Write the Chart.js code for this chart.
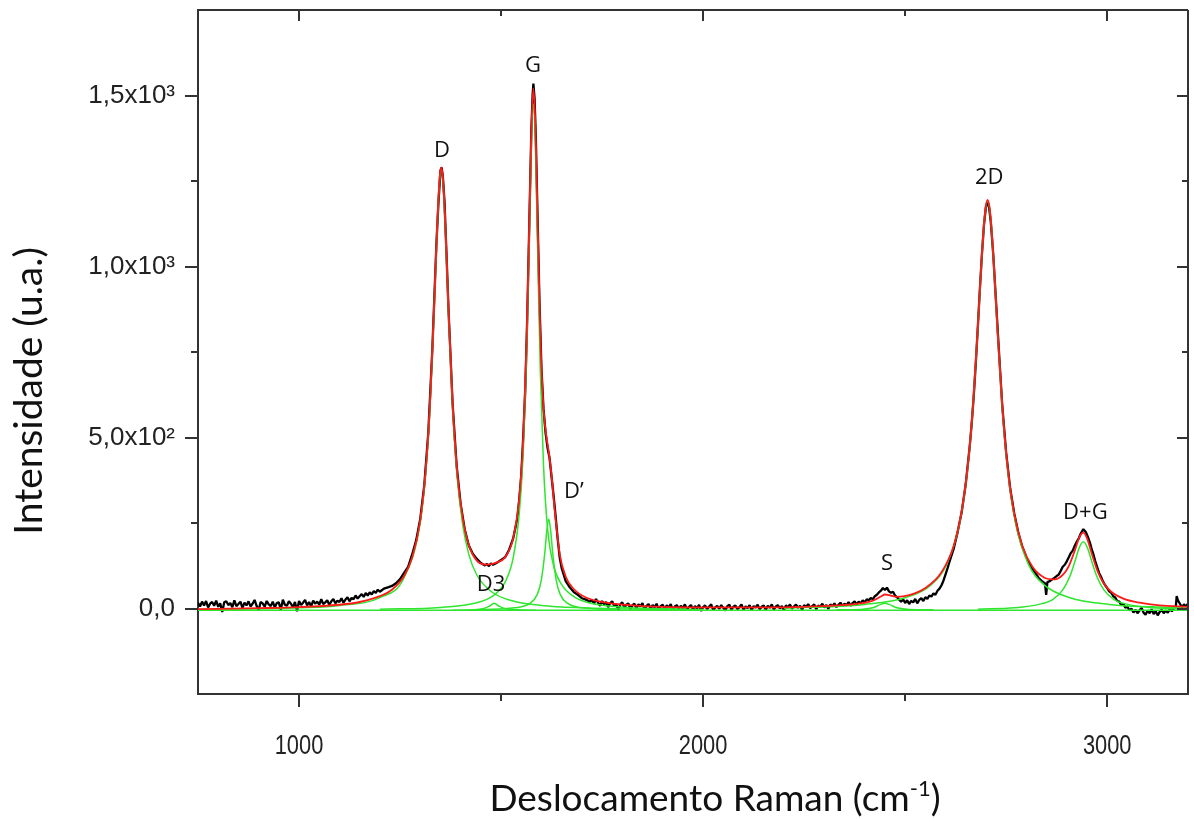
<!DOCTYPE html>
<html><head><meta charset="utf-8">
<script src="https://cdn.jsdelivr.net/npm/chart.js@4.4.1/dist/chart.umd.min.js"></script>
<style>html,body{margin:0;padding:0;background:#fff;overflow:hidden}</style>
</head><body>
<canvas id="c" width="1194" height="819"></canvas>
<script>
// ---- axis titles & tick labels ----
const xTitleMain = 'Deslocamento Raman (cm';
const xTitleSup = '-1';
const xTitleEnd = ')';
const yTitle = 'Intensidade (u.a.)';
const xTickValues = [1000, 2000, 3000];
const xTickLabels = ['1000', '2000', '3000'];
const xMinorTicks = [1500, 2500];
const yTickValues = [0, 500, 1000, 1500];
const yTickLabels = ['0,0', '5,0x10²', '1,0x10³', '1,5x10³'];
const yMinorTicks = [250, 750, 1250];

// ---- peak labels ----
const peakNames = ['D', 'G', 'D’', 'D3', 'S', '2D', 'D+G'];
const peakLabelX = [1354, 1579, 1680, 1475, 2455, 2708, 2946];
const peakLabelY = [1338, 1588, 342, 70, 132, 1260, 280];

// ---- experimental spectrum (black) ----
const blackX = [750,755,760,765,770,775,780,785,790,795,800,805,810,815,820,825,830,835,840,845,850,855,860,865,870,875,880,885,890,895,900,905,910,915,920,925,930,935,940,945,950,955,960,965,970,975,980,985,990,995,1000,
1005,1010,1015,1020,1025,1030,1035,1040,1045,1050,1055,1060,1065,1070,1075,1080,1085,1090,1095,1100,1105,1110,1115,1120,1125,1130,1135,1140,1145,1150,1155,1160,1165,1170,1175,1180,1185,1190,1195,1200,1210,1220,
1230,1240,1250,1260,1270,1280,1290,1300,1310,1320,1330,1340,1345,1350,1353,1356,1360,1365,1370,1380,1390,1400,1410,1420,1430,1440,1450,1460,1465,1470,1475,1480,1490,1500,
1510,1520,1530,1540,1545,1550,1555,1560,1565,1570,1575,1578,1580,1583,1586,1590,1595,1600,1605,1610,1615,1620,1625,1630,1635,1640,1645,1650,1660,1670,1680,1690,1700,1710,1720,
1725,1730,1735,1740,1745,1750,1755,1760,1765,1770,1775,1780,1785,1790,1795,1800,1805,1810,1815,1820,1825,1830,1835,1840,1845,1850,1855,1860,1865,1870,1875,1880,1885,1890,1895,1900,1905,1910,1915,1920,1925,1930,1935,1940,1945,1950,1955,1960,1965,1970,1975,1980,1985,1990,1995,2000,
2005,2010,2015,2020,2025,2030,2035,2040,2045,2050,2055,2060,2065,2070,2075,2080,2085,2090,2095,2100,2105,2110,2115,2120,2125,2130,2135,2140,2145,2150,2155,2160,2165,2170,2175,2180,2185,2190,2195,2200,
2205,2210,2215,2220,2225,2230,2235,2240,2245,2250,2255,2260,2265,2270,2275,2280,2285,2290,2295,2300,2305,2310,2315,2320,2325,2330,2335,2340,2345,2350,2355,2360,2365,2370,2375,2380,2385,2390,2395,2400,2405,
2410,2415,2420,2425,2430,2435,2440,2445,2450,2455,2460,2465,2470,2475,2480,2485,2490,2495,2500,2505,2510,2515,2520,2525,2530,2535,2540,2545,2550,2555,2560,2565,2570,2575,2580,2585,2590,2595,2600,2605,2610,2620,2630,2640,2650,2660,
2665,2670,2675,2680,2685,2690,2695,2700,2704,2708,2712,2718,2725,2732,2740,2750,2760,2770,2780,2790,2800,2810,2820,2830,2840,2846,2849,2852,2858,2865,2870,2875,2880,2885,2890,2895,2900,2905,2910,2915,2920,2925,2930,2935,2941,2947,2952,2958,2962,2966,2970,2975,2980,2985,2990,2995,
3000,3005,3010,3015,3020,3025,3030,3035,3040,3045,3050,3055,3060,3065,3070,3075,3080,3085,3090,3095,3100,3105,3110,3115,3120,3125,3130,3135,3140,3145,3150,3155,3160,3165,3170,3172,3175,3180,3185,3190,3195,3200];
const blackY = [17,6,20,9,22,3,14,19,8,23,5,15,-10,18,21,10,16,4,24,7,13,20,2,17,9,21,6,14,25,8,-6,19,15,5,22,12,7,20,3,16,18,-4,26,11,8,21,14,4,19,-8,22,
10,17,25,9,19,6,23,14,20,11,27,13,18,24,10,21,28,15,23,19,30,17,26,33,21,31,27,38,29,36,42,34,45,38,47,41,51,46,55,49,58,62,
66,74,86,104,122,158,200,262,360,515,760,1065,1185,1280,1290,1262,1190,1035,872,600,418,305,232,185,160,145,133,126,130,124,132,128,134,142,
150,172,205,262,318,390,505,640,860,1130,1400,1500,1535,1490,1380,1160,900,700,585,515,470,440,385,330,270,205,150,118,80,62,48,40,30,26,20,
24,14,28,17,8,22,12,19,4,16,21,7,14,-6,12,18,3,11,15,-2,9,14,1,12,6,16,-5,8,13,0,10,4,14,-3,7,11,-1,9,3,13,-6,6,10,-2,8,1,12,-4,5,10,-3,7,0,11,-7,4,
9,-2,6,12,-5,3,8,-1,10,2,-6,7,11,-3,5,9,-2,4,12,-4,6,1,10,-5,7,3,11,-2,5,9,-4,8,2,12,-3,6,10,0,7,-5,
9,3,12,-1,6,11,2,8,-4,10,4,13,1,7,12,-2,9,5,14,3,10,-1,12,6,15,4,11,17,7,14,9,19,8,16,21,12,20,15,24,18,27,
24,31,27,36,40,47,52,60,54,61,50,46,49,38,33,26,20,27,16,24,13,22,18,28,15,25,30,22,33,28,38,35,44,40,52,58,68,82,100,118,138,174,224,282,364,476,
545,625,720,825,935,1035,1120,1175,1190,1170,1130,1035,895,755,598,455,350,278,222,180,150,125,108,90,78,74,40,77,80,86,90,95,99,110,122,128,138,150,162,170,184,196,206,220,232,224,210,190,172,158,140,122,104,92,78,68,
60,50,46,36,32,22,20,10,14,2,6,-6,0,-12,-4,-14,-6,2,-12,-18,-6,-14,-2,-16,-8,-20,-10,-4,-14,-6,-12,-2,-8,0,8,36,24,14,4,12,6,14];

// ---- cumulative fit (red) ----
const redX = [750,800,900,1000,1100,1150,1200,1230,1260,1280,1300,1315,1325,1335,1342,1348,1352,1356,1362,1370,1380,1392,1405,1420,1440,1465,1490,1510,1530,1545,1555,1563,1570,1575,1580,1585,1590,1597,1605,1612,1618,1625,1633,1645,1660,1680,1710,1760,1850,2000,2150,2250,2330,2390,2420,2440,2450,2460,2480,2510,2550,2590,2620,2640,2655,2668,2680,2690,2698,2704,2710,2718,2730,2742,2755,2770,2790,2815,2845,2870,2890,2905,2920,2932,2941,2950,2962,2975,2990,3010,3040,3080,3130,3200];
const redY = [-2,-1,1,4,11,19,36,55,95,149,258,427,621,904,1123,1260,1290,1260,1125,875,602,391,265,186,140,128,135,150,205,322,502,775,1133,1398,1521,1411,1160,805,585,505,458,388,285,160,93,57,32,17,7,3,3,5,9,15,23,35,41,39,34,39,60,106,183,286,417,596,826,1037,1162,1195,1163,1038,786,567,399,277,183,122,90,85,98,124,170,211,222,206,160,113,76,49,29,17,9,5];

// ---- fitted components (green) ----
const dX  = [750,900,1000,1100,1200,1260,1300,1315,1325,1335,1342,1348,1352,1356,1362,1370,1380,1392,1405,1420,1440,1480,1530,1600,1700,1850,2000];
const dY  = [-3,-1,2,9,32,90,252,420,614,896,1115,1251,1281,1251,1115,865,590,377,245,159,98,46,22,9,2,-2,-3];
const gX  = [1200,1350,1440,1480,1510,1530,1545,1555,1563,1570,1575,1580,1585,1590,1597,1605,1615,1630,1650,1680,1720,1810,1960];
const gY  = [-2,3,17,37,77,148,278,463,735,1095,1357,1475,1357,1080,700,420,235,125,70,35,16,3,-2];
const dpX = [1450,1540,1570,1590,1600,1608,1613,1618,1623,1628,1636,1646,1666,1696,1786];
const dpY = [-3,3,14,42,86,160,225,262,225,160,86,42,14,3,-3];
const d3X = [1380,1430,1455,1470,1483,1496,1511,1536,1586];
const d3Y = [-5,-4,-1,6,15,6,-1,-4,-5];
const sX  = [2330,2390,2420,2440,2450,2460,2480,2510,2570];
const sY  = [-4,-3,2,12,15,12,2,-3,-4];
const d2X = [2200,2400,2504,2564,2604,2634,2654,2668,2680,2688,2696,2704,2712,2720,2728,2740,2754,2774,2804,2844,2904,3004,3154,3200];
const d2Y = [1,12,33,69,132,245,403,593,823,993,1134,1190,1134,993,823,593,403,245,132,69,33,12,3,1];
const dgX = [2680,2771,2831,2866,2891,2908,2921,2931,2941,2951,2961,2974,2991,3016,3051,3111,3200];
const dgY = [-2,2,12,27,56,95,141,178,195,178,141,95,56,27,12,2,-2];
const baseX = [750,3200];
const baseY = [-5,-5];

const pts = (xs, ys) => xs.map((v, i) => ({x: v, y: ys[i]}));
const GREEN = '#2ee62e';
const greenSet = (xs, ys) => ({data: pts(xs, ys), borderColor: GREEN, borderWidth: 1.5, pointRadius: 0, cubicInterpolationMode: 'monotone', order: 1});

const decor = {
  id: 'decor',
  afterDraw(chart) {
    const {ctx, chartArea: a, scales: {x, y}} = chart;
    ctx.save();
    ctx.strokeStyle = '#333';
    ctx.lineWidth = 2;
    const line = (x1, y1, x2, y2) => { ctx.beginPath(); ctx.moveTo(x1, y1); ctx.lineTo(x2, y2); ctx.stroke(); };
    line(a.left, a.top, a.right, a.top);
    line(a.right, a.top, a.right, a.bottom);
    xTickValues.forEach(v => { const p = Math.round(x.getPixelForValue(v)); line(p, a.bottom, p, a.bottom + 13); line(p, a.top, p, a.top + 11); });
    xMinorTicks.forEach(v => { const p = Math.round(x.getPixelForValue(v)); line(p, a.bottom, p, a.bottom + 7); line(p, a.top, p, a.top + 6); });
    yTickValues.forEach(v => { const p = Math.round(y.getPixelForValue(v)); line(a.left - 13, p, a.left, p); line(a.right - 11, p, a.right, p); });
    yMinorTicks.forEach(v => { const p = Math.round(y.getPixelForValue(v)); line(a.left - 7, p, a.left, p); line(a.right - 6, p, a.right, p); });

    // x tick labels (narrow)
    ctx.fillStyle = '#222';
    ctx.font = '28px "Liberation Sans", Arial, sans-serif';
    ctx.textAlign = 'center';
    ctx.textBaseline = 'middle';
    xTickValues.forEach((v, i) => {
      ctx.save();
      ctx.translate(x.getPixelForValue(v), a.bottom + 52);
      ctx.scale(0.78, 1);
      ctx.fillText(xTickLabels[i], 0, 0);
      ctx.restore();
    });

    // peak labels
    ctx.fillStyle = '#111';
    ctx.font = '22px "Open Sans", sans-serif';
    peakNames.forEach((t, i) => ctx.fillText(t, x.getPixelForValue(peakLabelX[i]), y.getPixelForValue(peakLabelY[i])));

    // x title with superscript
    ctx.textAlign = 'left';
    ctx.textBaseline = 'alphabetic';
    ctx.fillStyle = '#111';
    const f1 = '37px Lato, sans-serif', f2 = '22px Lato, sans-serif';
    ctx.font = f1; const w1 = ctx.measureText(xTitleMain).width; const w3 = ctx.measureText(xTitleEnd).width;
    ctx.font = f2; const w2 = ctx.measureText(xTitleSup).width;
    let sx = 715 - (w1 + w2 + w3) / 2;
    const by = 811;
    ctx.font = f1; ctx.fillText(xTitleMain, sx, by); sx += w1;
    ctx.font = f2; ctx.fillText(xTitleSup, sx, by - 15); sx += w2;
    ctx.font = f1; ctx.fillText(xTitleEnd, sx, by);

    // y title
    ctx.save();
    ctx.translate(42, 391);
    ctx.rotate(-Math.PI / 2);
    ctx.textAlign = 'center';
    ctx.font = '39px Lato, sans-serif';
    ctx.fillText(yTitle, 0, 0);
    ctx.restore();
    ctx.restore();
  }
};

const zeroPad = s => { s.paddingTop = 0; s.paddingBottom = 0; s.paddingLeft = 0; s.paddingRight = 0; };

new Chart(document.getElementById('c'), {
  type: 'line',
  data: {
    datasets: [
      {data: pts(redX, redY), borderColor: '#ff1a1a', borderWidth: 1.8, pointRadius: 0, cubicInterpolationMode: 'monotone', order: 0},
      greenSet(dX, dY), greenSet(gX, gY), greenSet(dpX, dpY), greenSet(d3X, d3Y),
      greenSet(sX, sY), greenSet(d2X, d2Y), greenSet(dgX, dgY), greenSet(baseX, baseY),
      {data: pts(blackX, blackY), borderColor: '#000', borderWidth: 2.3, borderJoinStyle: 'bevel', pointRadius: 0, tension: 0, order: 2}
    ]
  },
  options: {
    responsive: false,
    animation: false,
    devicePixelRatio: 1,
    layout: {padding: {top: 10, right: 6, left: 0, bottom: 0}},
    plugins: {legend: {display: false}, tooltip: {enabled: false}},
    scales: {
      x: {
        type: 'linear', min: 750, max: 3200,
        afterBuildTicks: s => { s.ticks = xTickValues.map(v => ({value: v})); },
        afterFit: s => { s.height = 125; zeroPad(s); },
        ticks: {display: false},
        grid: {display: true, drawOnChartArea: false, drawTicks: false, color: 'rgba(0,0,0,0)'},
        border: {display: true, color: '#333', width: 2},
        title: {display: false}
      },
      y: {
        type: 'linear', min: -250, max: 1750,
        afterBuildTicks: s => { s.ticks = yTickValues.map(v => ({value: v})); },
        afterFit: s => { s.width = 198; zeroPad(s); },
        ticks: {
          callback: v => { const i = yTickValues.indexOf(v); return i >= 0 ? yTickLabels[i] : ''; },
          font: {family: "'Liberation Sans', Arial, sans-serif", size: 26},
          color: '#222', padding: 11, autoSkip: false
        },
        grid: {display: true, drawOnChartArea: false, drawTicks: true, tickLength: 12, color: 'rgba(0,0,0,0)'},
        border: {display: true, color: '#333', width: 2},
        title: {display: false}
      }
    }
  },
  plugins: [decor]
});
</script>
</body></html>
